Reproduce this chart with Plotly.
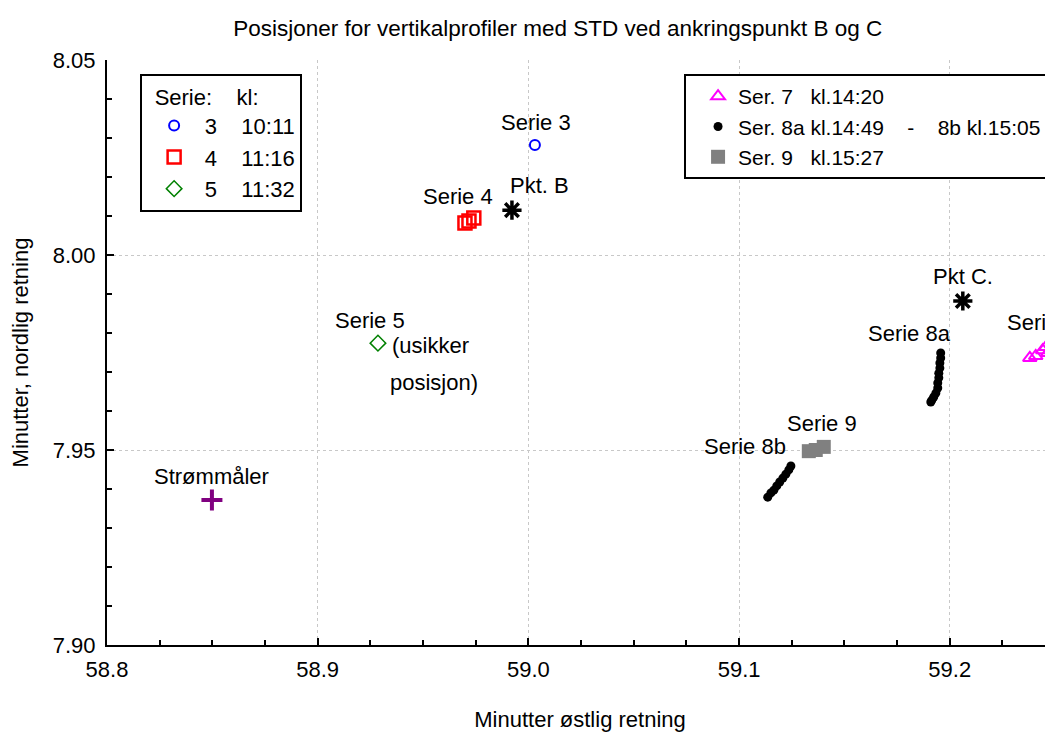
import plotly.graph_objects as go

NB = "\u00a0"
THIN = "\u2009"

# ---- data ----
serie3_x = [59.0031]
serie3_y = [8.0282]
serie4_x = [58.9699, 58.9718, 58.9741]
serie4_y = [8.0082, 8.0087, 8.0095]
serie5_x = [58.9286]
serie5_y = [7.9774]
serie7_x = [59.2380, 59.2408, 59.2441, 59.2456, 59.2465]
serie7_y = [7.9736, 7.9741, 7.9756, 7.9764, 7.9749]
serie8a_x = [59.1957, 59.1957, 59.1953, 59.1953, 59.1948, 59.1948, 59.1943, 59.1943,
             59.1934, 59.1924, 59.1915, 59.1910]
serie8a_y = [7.9749, 7.9736, 7.9723, 7.9710, 7.9697, 7.9685, 7.9672, 7.9659,
             7.9646, 7.9636, 7.9628, 7.9623]
serie8b_x = [59.1246, 59.1236, 59.1222, 59.1208, 59.1193, 59.1179, 59.1165, 59.1151, 59.1136]
serie8b_y = [7.9459, 7.9449, 7.9438, 7.9428, 7.9418, 7.9408, 7.9397, 7.9390, 7.9379]
serie9_x = [59.1331, 59.1364, 59.1402]
serie9_y = [7.9497, 7.9500, 7.9508]
pkt_x = [58.9922, 59.2062]
pkt_y = [8.0115, 7.9882]
strom_x = [58.8498]
strom_y = [7.9372]

# label texts and anchor positions
label_text = ["Serie 3", "Serie 4", "Pkt. B", "Serie 5", "Strømmåler", "Pkt C.",
              "Serie 8a", "Serie 9", "Serie 8b"]
label_x = [59.0036, 58.9666, 59.0055, 58.9248, 58.8498, 59.2062, 59.1810, 59.1393, 59.1027]
label_y = [8.0341, 8.0151, 8.0179, 7.9833, 7.9431, 7.9944, 7.9800, 7.9567, 7.9510]

note_text = ["(usikker", "posisjon)", "Serie 7"]
note_x = [58.9343, 58.9333, 59.2261]
note_y = [7.9767, 7.9674, 7.9828]

x_range = [58.8, 59.249]
y_range = [7.90, 8.05]

FONT = "Liberation Sans, Arial, sans-serif"
FS = 22

fig = go.Figure()

def sp(n):
    return NB * n

# legend 1 traces
fig.add_trace(go.Scatter(x=serie3_x, y=serie3_y, mode="markers",
                         name=NB + THIN + "3" + sp(4) + "10:11", legend="legend", legendgroup="s3",
                         marker=dict(symbol="circle-open", size=10, color="#0000ff", line=dict(width=2))))
fig.add_trace(go.Scatter(x=serie4_x, y=serie4_y, mode="markers",
                         name=NB + THIN + "4" + sp(4) + "11:16", legend="legend", legendgroup="s4",
                         marker=dict(symbol="square-open", size=13, color="#ff0000", line=dict(width=2.5))))
fig.add_trace(go.Scatter(x=serie5_x, y=serie5_y, mode="markers",
                         name=NB + THIN + "5" + sp(4) + "11:32", legend="legend", legendgroup="s5",
                         marker=dict(symbol="diamond-open", size=12, color="#008000", line=dict(width=1.5))))

# legend 2 traces
fig.add_trace(go.Scatter(x=serie7_x, y=serie7_y, mode="markers",
                         name="Ser. 7" + sp(3) + "kl.14:20", legend="legend2", legendgroup="s7",
                         marker=dict(symbol="triangle-up-open", size=12, color="#ff00ff", line=dict(width=2))))
fig.add_trace(go.Scatter(x=serie8a_x + serie8b_x, y=serie8a_y + serie8b_y, mode="markers",
                         name="Ser. 8a kl.14:49" + sp(4) + "-" + sp(4) + "8b kl.15:05" + sp(5),
                         legend="legend2", legendgroup="s8",
                         marker=dict(symbol="circle", size=9, color="#000000")))
fig.add_trace(go.Scatter(x=serie9_x, y=serie9_y, mode="markers",
                         name="Ser. 9" + sp(3) + "kl.15:27", legend="legend2", legendgroup="s9",
                         marker=dict(symbol="square", size=14, color="#808080")))

# points without legend
fig.add_trace(go.Scatter(x=pkt_x, y=pkt_y, mode="markers", showlegend=False,
                         marker=dict(symbol="asterisk-open", size=16, color="#000000",
                                     line=dict(width=3.5, color="#000000"))))
fig.add_trace(go.Scatter(x=strom_x, y=strom_y, mode="markers", showlegend=False,
                         marker=dict(symbol="cross-thin-open", size=15, color="#800080",
                                     line=dict(width=4, color="#800080"))))

annotations = []
for t, x, y in zip(label_text, label_x, label_y):
    annotations.append(dict(x=x, y=y, text=t, showarrow=False, xanchor="center", yanchor="middle",
                            font=dict(size=FS, color="#000000", family=FONT)))
for t, x, y in zip(note_text, note_x, note_y):
    annotations.append(dict(x=x, y=y, text=t, showarrow=False, xanchor="left", yanchor="middle",
                            font=dict(size=FS, color="#000000", family=FONT)))

# The page body has an 8px default margin, so the figure is 8px smaller and
# its margins are 8px smaller to land on the same page pixels.
fig.update_layout(
    width=1045, height=725,
    margin=dict(l=99, r=0, t=52, b=88, autoexpand=False),
    paper_bgcolor="white", plot_bgcolor="white",
    font=dict(family=FONT, size=FS, color="#000000"),
    title=dict(text="Posisjoner for vertikalprofiler med STD ved ankringspunkt B og C",
               x=0.526, xanchor="center", y=0.9724, yanchor="middle",
               font=dict(size=22.5, family=FONT)),
    annotations=annotations,
    legend=dict(x=0.035, y=0.976, xanchor="left", yanchor="top",
                bordercolor="#000000", borderwidth=2, bgcolor="white",
                title=dict(text=NB + THIN + "Serie:" + sp(4) + "kl:", font=dict(size=FS)),
                font=dict(size=FS), traceorder="grouped", tracegroupgap=0,
                itemwidth=30, indentation=12),
    legend2=dict(x=0.61, y=0.976, xanchor="left", yanchor="top",
                 bordercolor="#000000", borderwidth=2, bgcolor="white",
                 font=dict(size=21), traceorder="grouped", tracegroupgap=0,
                 itemwidth=30, indentation=12),
)

fig.update_xaxes(
    range=x_range, tickvals=[58.8, 58.9, 59.0, 59.1, 59.2],
    ticktext=["58.8", "58.9", "59.0", "59.1", "59.2"],
    ticks="inside", ticklen=7, tickwidth=1.5, tickcolor="#000000",
    minor=dict(dtick=0.025, tick0=58.8, ticks="inside", ticklen=5, tickcolor="#000000", showgrid=False),
    showline=True, linecolor="#000000", linewidth=2, mirror=False,
    showgrid=True, gridcolor="#c8c8c8", griddash="dot", gridwidth=1,
    zeroline=False, tickfont=dict(size=FS), automargin=False, ticklabelstandoff=4,
    title=dict(text="Minutter østlig retning", font=dict(size=FS), standoff=30),
)
fig.update_yaxes(
    range=y_range, tickvals=[7.90, 7.95, 8.00, 8.05],
    ticktext=["7.90", "7.95", "8.00", "8.05"],
    ticks="inside", ticklen=7, tickwidth=1.5, tickcolor="#000000",
    minor=dict(dtick=0.01, tick0=7.90, ticks="inside", ticklen=5, tickcolor="#000000", showgrid=False),
    showline=True, linecolor="#000000", linewidth=2, mirror=False,
    showgrid=True, gridcolor="#c8c8c8", griddash="dot", gridwidth=1,
    zeroline=False, tickfont=dict(size=FS), automargin=False, ticklabelstandoff=5,
    title=dict(text="Minutter, nordlig retning", font=dict(size=FS), standoff=20),
)

fig.write_html("out.html")
